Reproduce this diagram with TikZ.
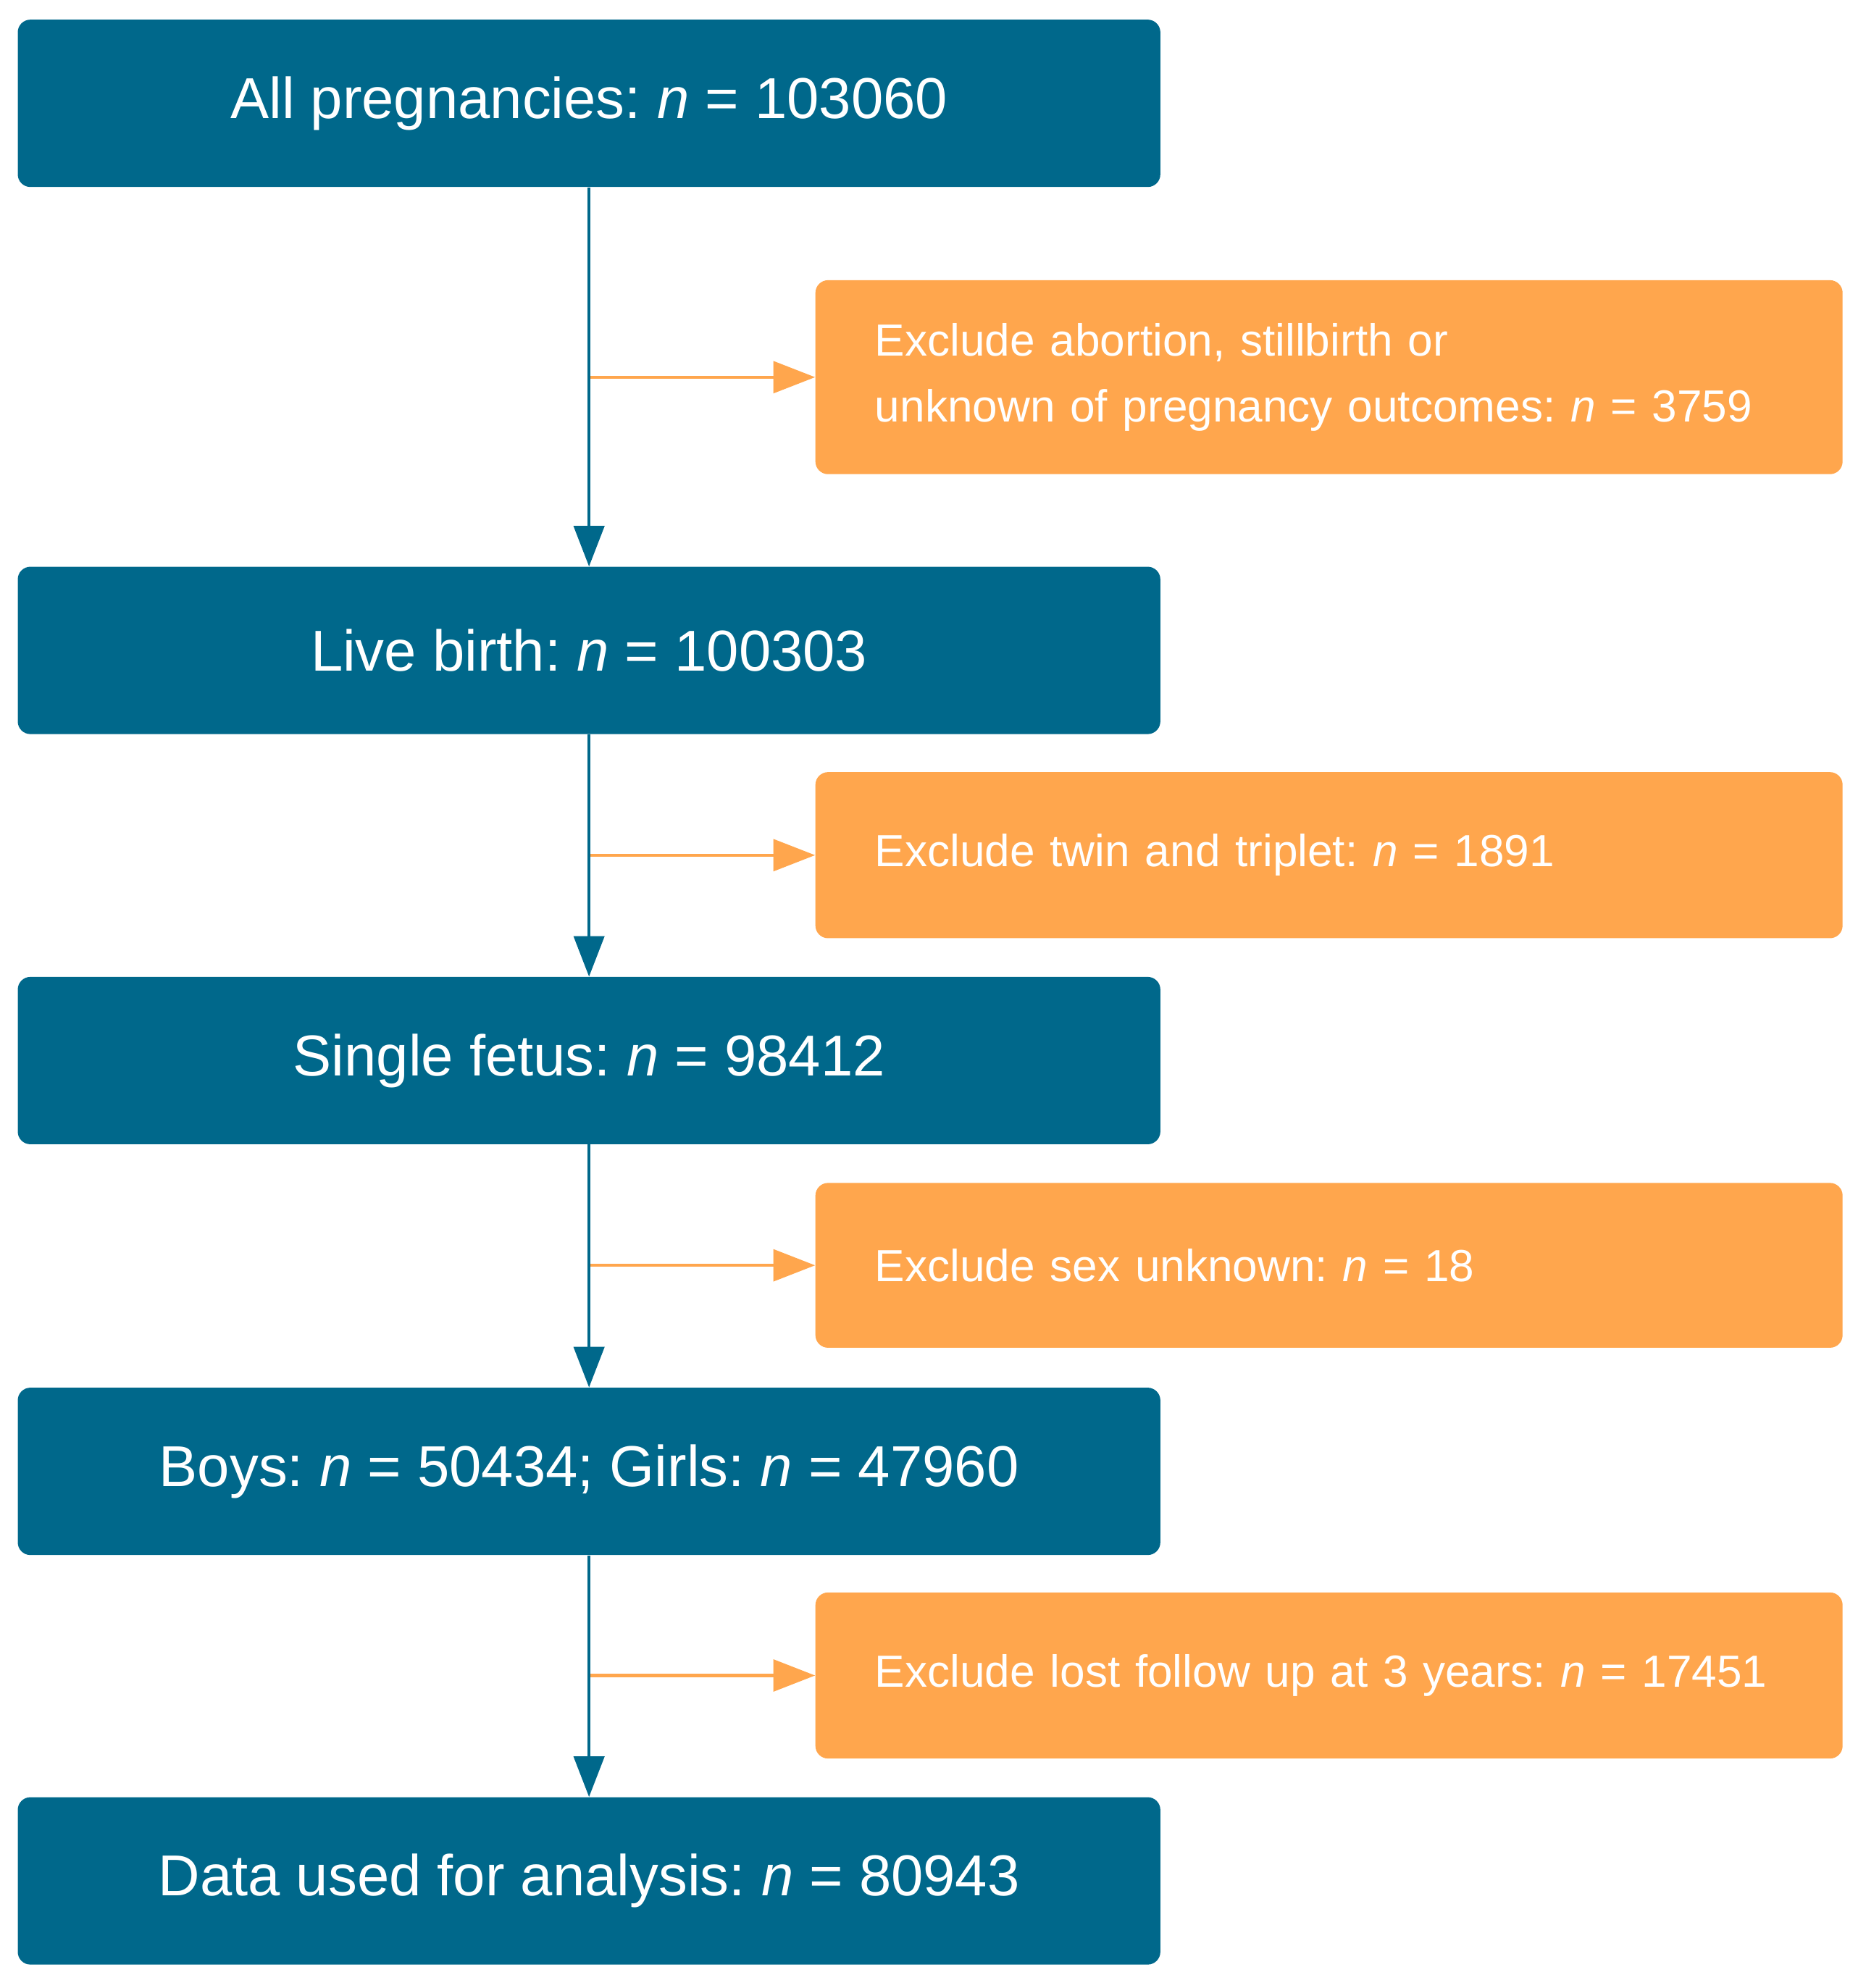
\documentclass[tikz,border=0pt]{standalone}
\usepackage{fontspec}
\setmainfont{Liberation Sans}
\usetikzlibrary{arrows.meta}
\definecolor{mainblue}{RGB}{0,104,139}
\definecolor{exorange}{RGB}{255,166,77}
\frenchspacing
\begin{document}
\begin{tikzpicture}[x=1bp,y=-1bp,
  mainbox/.style={fill=mainblue, rounded corners=10bp, minimum width=901bp, minimum height=132bp,
    text=white, font=\fontsize{45.5bp}{54bp}\selectfont, inner sep=0pt},
  exbox/.style={fill=exorange, rounded corners=10bp, minimum width=810bp, text width=716bp,
    inner xsep=47bp, inner ysep=0pt, align=left, text=white, font=\fontsize{35.5bp}{52bp}\selectfont},
  mainline/.style={draw=mainblue, line width=2.5bp, -{Triangle[length=32bp,width=24bp]}},
  exline/.style={draw=exorange, line width=2.5bp, -{Triangle[length=33bp,width=25bp]}}]
\useasboundingbox (0,0) rectangle (1471,1568);
\node[mainbox] (b1) at (464.5,81.5) {All pregnancies: \textit{n} = 103060};
\node[mainbox] (b2) at (464.5,513) {Live birth: \textit{n} = 100303};
\node[mainbox] (b3) at (464.5,836.5) {Single fetus: \textit{n} = 98412};
\node[mainbox] (b4) at (464.5,1160.5) {Boys: \textit{n} = 50434; Girls: \textit{n} = 47960};
\node[mainbox] (b5) at (464.5,1483.5) {Data used for analysis: \textit{n} = 80943};
\node[exbox, minimum height=153bp] (o1) at (1048,297.5) {Exclude abortion, stillbirth or\\unknown of pregnancy outcomes: \textit{n} = 3759};
\node[exbox, minimum height=131bp] (o2) at (1048,674.5) {Exclude twin and triplet: \textit{n} = 1891};
\node[exbox, minimum height=130bp] (o3) at (1048,998) {Exclude sex unknown: \textit{n} = 18};
\node[exbox, minimum height=131bp] (o4) at (1048,1321.5) {Exclude lost follow up at 3 years: \textit{n} = 17451};
\coordinate (j1) at (b1.south |- o1.west);
\coordinate (j2) at (b2.south |- o2.west);
\coordinate (j3) at (b3.south |- o3.west);
\coordinate (j4) at (b4.south |- o4.west);
\draw[exline] (j1) -- (o1.west);
\draw[exline] (j2) -- (o2.west);
\draw[exline] (j3) -- (o3.west);
\draw[exline] (j4) -- (o4.west);
\draw[mainline] (b1.south) -- (b2.north);
\draw[mainline] (b2.south) -- (b3.north);
\draw[mainline] (b3.south) -- (b4.north);
\draw[mainline] (b4.south) -- (b5.north);
\end{tikzpicture}
\end{document}
